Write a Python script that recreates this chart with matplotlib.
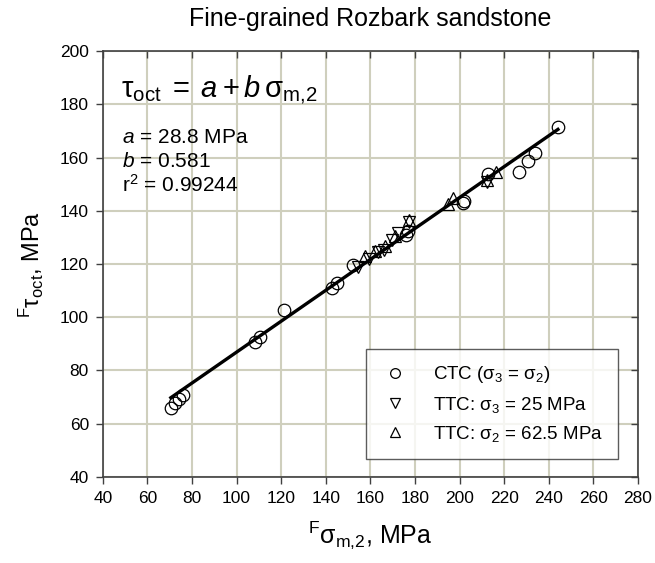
import numpy as np
import matplotlib
matplotlib.use('Agg')
import matplotlib.pyplot as plt
from matplotlib.lines import Line2D

plt.rcParams['font.family'] = ['Liberation Sans', 'DejaVu Sans']
plt.rcParams['mathtext.fontset'] = 'custom'
plt.rcParams['mathtext.rm'] = 'Liberation Sans'
plt.rcParams['mathtext.it'] = 'Liberation Sans:italic'
plt.rcParams['mathtext.bf'] = 'Liberation Sans:bold'

# CTC (sigma3 = sigma2)
ctc_x = [70.5, 72.3, 74.1, 76.0, 108.2, 110.4, 121.2, 142.6, 144.8, 152.3,
         175.8, 177.0, 201.6, 202.0, 212.6, 226.5, 230.7, 233.8, 244.1]
ctc_y = [66.0, 67.9, 69.2, 70.8, 90.8, 92.5, 102.7, 110.9, 112.7, 119.6,
         130.9, 132.5, 143.1, 143.8, 153.7, 154.6, 158.7, 161.7, 171.5]
# TTC: sigma3 = 25 MPa
ttc3_x = [154.4, 159.5, 163.4, 166.0, 169.7, 172.4, 177.3, 212.3]
ttc3_y = [119.0, 122.0, 124.5, 125.3, 129.0, 131.6, 135.8, 151.0]
# TTC: sigma2 = 62.5 MPa
ttc2_x = [157.6, 162.0, 166.5, 171.0, 177.3, 194.8, 197.0, 212.3, 216.3]
ttc2_y = [123.0, 125.0, 126.8, 130.5, 136.5, 142.7, 145.0, 151.5, 154.5]

fit_a = 28.8
fit_b = 0.581
fit_r2 = 0.99244

xticks = list(range(40, 281, 20))
yticks = list(range(40, 201, 20))

fig = plt.figure(figsize=(6.55, 5.63), dpi=100)
ax = fig.add_axes([0.157, 0.153, 0.817, 0.756])

spine_col = '#404040'
grid_col = '#cfcfbd'

ax.set_xlim(40, 280)
ax.set_ylim(40, 200)
ax.set_xticks(xticks)
ax.set_yticks(yticks)
ax.grid(True, color=grid_col, linewidth=1.5)
ax.set_axisbelow(True)
for s in ax.spines.values():
    s.set_color(spine_col)
    s.set_linewidth(1.2)
ax.tick_params(axis='both', which='major', labelsize=12.5, color=spine_col,
               direction='out', length=5, width=1, pad=5)
ax.tick_params(top=True, right=True)
for t in ax.xaxis.get_major_ticks():
    t.tick2line.set_marker(matplotlib.lines.TICKDOWN)
for t in ax.yaxis.get_major_ticks():
    t.tick2line.set_marker(matplotlib.lines.TICKLEFT)

# regression line
xs = np.array([min(ctc_x), max(ctc_x)])
ax.plot(xs, fit_a + fit_b * xs, color='black', linewidth=2.4, zorder=3)

mk = dict(linestyle='none', markerfacecolor='none', markeredgecolor='black',
          markeredgewidth=0.9, zorder=4)
ax.plot(ctc_x, ctc_y, marker='o', markersize=9, **mk)
ax.plot(ttc3_x, ttc3_y, marker='v', markersize=9, **mk)
ax.plot(ttc2_x, ttc2_y, marker='^', markersize=9, **mk)

sig = r'\mathrm{\sigma}'

# text
ax.text(48, 183,
        r'$\mathrm{\tau}_{\mathrm{oct}}\;=\;\mathit{a}+\mathit{b}\,' + sig + r'_{\mathrm{m{,}2}}$',
        fontsize=21, ha='left', va='baseline')
ax.text(48.5, 165.6, r'$\mathit{a}$ = 28.8 MPa', fontsize=15, ha='left', va='baseline')
ax.text(48.5, 156.3, r'$\mathit{b}$ = 0.581', fontsize=15, ha='left', va='baseline')
ax.text(48.5, 147.2, r'r$^2$ = 0.99244', fontsize=15, ha='left', va='baseline')

handles = [
    Line2D([], [], marker='o', markersize=7, **mk),
    Line2D([], [], marker='v', markersize=7, **mk),
    Line2D([], [], marker='^', markersize=7, **mk),
]
labels = [r'CTC ($' + sig + r'_3$ = $' + sig + r'_2$)',
          r'TTC: $' + sig + r'_3$ = 25 MPa',
          r'TTC: $' + sig + r'_2$ = 62.5 MPa']
leg = ax.legend(handles, labels, loc='lower right', bbox_to_anchor=(0.963, 0.042),
                fontsize=13.5, frameon=True, fancybox=False, borderpad=0.8,
                handlelength=1.5, handletextpad=1.3, labelspacing=0.5,
                borderaxespad=0)
leg.get_frame().set_edgecolor('#333333')
leg.get_frame().set_linewidth(1.0)

ax.set_xlabel(r'$^{\mathrm{F}}' + sig + r'_{\mathrm{m{,}2}}$, MPa', fontsize=18, labelpad=10)
ax.set_ylabel(r'$^{\mathrm{F}}\mathrm{\tau}_{\mathrm{oct}}$, MPa', fontsize=17, labelpad=10)
fig.text(0.565, 0.966, 'Fine-grained Rozbark sandstone', fontsize=18,
         ha='center', va='center')

fig.savefig('out.png', dpi=100)
